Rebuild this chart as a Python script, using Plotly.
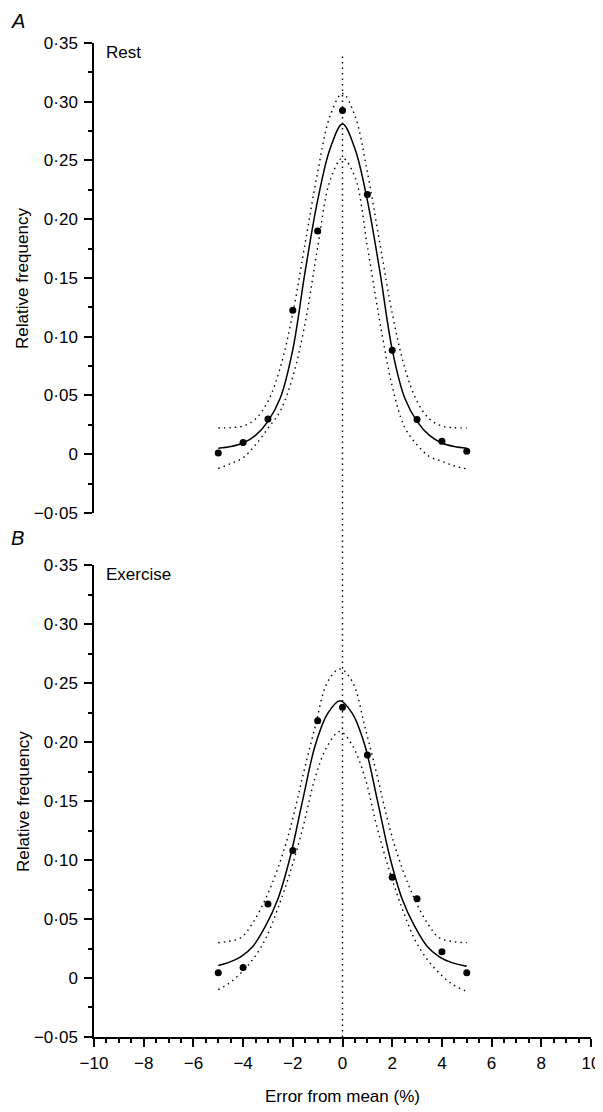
import plotly.graph_objects as go

# measured points (x = error from mean, %)
error_pts = [-5, -4, -3, -2, -1, 0, 1, 2, 3, 4, 5]
rest_freq = [0.001, 0.010, 0.030, 0.1226, 0.190, 0.2925, 0.221, 0.0885, 0.0295, 0.011, 0.0026]
exercise_freq = [0.0045, 0.009, 0.0627, 0.108, 0.218, 0.2294, 0.189, 0.0853, 0.0672, 0.0223, 0.0045]

# fitted curve and confidence band
rest_curve_x = [-5, -4.5, -4, -3.5, -3, -2.5, -2, -1.5, -1, -0.5, 0,
                0.5, 1, 1.5, 2, 2.5, 3, 3.5, 4, 4.5, 5]
rest_fit = [0.0050, 0.0065, 0.0095, 0.016, 0.028, 0.048, 0.089, 0.156, 0.216, 0.260, 0.281,
            0.260, 0.216, 0.156, 0.089, 0.048, 0.028, 0.016, 0.0095, 0.0065, 0.0050]
rest_upper = [0.0224, 0.0226, 0.024, 0.030, 0.045, 0.074, 0.120, 0.180, 0.240, 0.288, 0.307,
              0.288, 0.240, 0.180, 0.120, 0.074, 0.045, 0.030, 0.024, 0.0226, 0.0224]
rest_lower = [-0.0122, -0.008, -0.003, 0.008, 0.022, 0.037, 0.066, 0.112, 0.176, 0.233, 0.252,
              0.236, 0.177, 0.113, 0.058, 0.023, 0.008, -0.002, -0.006, -0.010, -0.0125]

exercise_curve_x = [-5.0, -4.6, -4.1, -3.6, -3.1, -2.6, -2.1, -1.6, -1.1, -0.6, -0.1,
                    0.4, 0.9, 1.4, 1.9, 2.4, 2.9, 3.4, 3.9, 4.4, 4.9, 5.0]
exercise_fit = [0.0106, 0.013, 0.018, 0.027, 0.044, 0.067, 0.103, 0.151, 0.197, 0.224, 0.235,
                0.224, 0.197, 0.151, 0.103, 0.067, 0.044, 0.027, 0.018, 0.013, 0.0103, 0.0100]
exercise_upper = [0.030, 0.031, 0.034, 0.047, 0.067, 0.093, 0.127, 0.171, 0.213, 0.251, 0.262,
                  0.251, 0.213, 0.171, 0.127, 0.093, 0.067, 0.047, 0.034, 0.031, 0.030, 0.030]
exercise_lower = [-0.0098, -0.005, 0.004, 0.016, 0.033, 0.059, 0.090, 0.127, 0.170, 0.197, 0.209,
                  0.197, 0.170, 0.127, 0.090, 0.059, 0.033, 0.016, 0.004, -0.005, -0.0105, -0.011]

y_tickvals = [-0.05, 0, 0.05, 0.10, 0.15, 0.20, 0.25, 0.30, 0.35]
y_ticktext = ["\u22120\u00b705", "0", "0\u00b705", "0\u00b710", "0\u00b715",
              "0\u00b720", "0\u00b725", "0\u00b730", "0\u00b735"]
x_tickvals = [-10, -8, -6, -4, -2, 0, 2, 4, 6, 8, 10]
x_ticktext = ["\u221210", "\u22128", "\u22126", "\u22124", "\u22122", "0", "2", "4", "6", "8", "10"]

FONT = "Liberation Sans, Arial, sans-serif"
DOT = "1.5px,4px"

fig = go.Figure()


def add_panel(xa, ya, cx, fit, upper, lower, freq):
    for band in (upper, lower):
        fig.add_trace(go.Scatter(
            x=cx, y=band, mode="lines", xaxis=xa, yaxis=ya,
            line=dict(color="black", width=1.4, dash=DOT, shape="spline"),
            hoverinfo="skip", showlegend=False,
        ))
    fig.add_trace(go.Scatter(
        x=cx, y=fit, mode="lines", xaxis=xa, yaxis=ya,
        line=dict(color="black", width=1.5, shape="spline"),
        showlegend=False,
    ))
    fig.add_trace(go.Scatter(
        x=error_pts, y=freq, mode="markers", xaxis=xa, yaxis=ya,
        marker=dict(color="black", size=7),
        showlegend=False,
    ))


add_panel("x", "y", rest_curve_x, rest_fit, rest_upper, rest_lower, rest_freq)
add_panel("x2", "y2", exercise_curve_x, exercise_fit, exercise_upper, exercise_lower, exercise_freq)

yaxis_cfg = dict(
    range=[-0.05, 0.35], showline=True, linecolor="black", linewidth=1.5,
    ticks="outside", ticklen=8, tickwidth=1.5, tickcolor="black",
    tickmode="array", tickvals=y_tickvals, ticktext=y_ticktext,
    tickfont=dict(family=FONT, size=17, color="black"), ticklabelstandoff=3,
    showgrid=False, zeroline=False, fixedrange=True,
    minor=dict(ticks="outside", ticklen=4, tickwidth=1.5, tickcolor="black",
               tickmode="linear", tick0=0, dtick=0.025, showgrid=False),
)

# the page body adds an 8px margin, so the figure is 8px smaller than the window
fig.update_layout(
    width=595, height=1104,
    margin=dict(l=86, r=12, t=35, b=75, autoexpand=False),
    paper_bgcolor="white", plot_bgcolor="white",
    font=dict(family=FONT, size=16, color="black"),
    showlegend=False,
    xaxis=dict(domain=[0, 1], range=[-10, 10], anchor="y", visible=False),
    yaxis=dict(domain=[0.5272, 1], anchor="x", **yaxis_cfg),
    xaxis2=dict(
        domain=[0, 1], range=[-10, 10], anchor="y2",
        showline=True, linecolor="black", linewidth=1.5,
        ticks="outside", ticklen=8, tickwidth=1.5, tickcolor="black",
        tickmode="array", tickvals=x_tickvals, ticktext=x_ticktext,
        tickfont=dict(family=FONT, size=17, color="black"), ticklabelstandoff=2,
        showgrid=False, zeroline=False,
        minor=dict(ticks="outside", ticklen=4, tickwidth=1.5, tickcolor="black",
                   tickmode="linear", tick0=0, dtick=0.5, showgrid=False),
    ),
    yaxis2=dict(domain=[0, 0.4748], anchor="x2", **yaxis_cfg),
)

# vertical dotted reference line at zero error, through both panels
fig.add_shape(type="line", xref="x2", yref="paper", x0=0, x1=0, y0=0, y1=0.990,
              line=dict(color="black", width=1.4, dash=DOT))

for label, ypos in (("A", 1.0225), ("B", 0.502)):
    fig.add_annotation(text=f"<i>{label}</i>", xref="paper", yref="paper", x=-0.153, y=ypos,
                       xanchor="center", yanchor="middle",
                       showarrow=False, font=dict(family=FONT, size=20, color="black"))

fig.add_annotation(text="Rest", xref="x", yref="y", x=-9.6, y=0.342,
                   xanchor="left", yanchor="middle",
                   showarrow=False, font=dict(family=FONT, size=17, color="black"))
fig.add_annotation(text="Exercise", xref="x2", yref="y2", x=-9.6, y=0.342,
                   xanchor="left", yanchor="middle",
                   showarrow=False, font=dict(family=FONT, size=17, color="black"))

for ya in ("y", "y2"):
    fig.add_annotation(text="Relative frequency", xref="paper", yref=ya, x=-0.143, y=0.15,
                       xanchor="center", yanchor="middle",
                       textangle=-90, showarrow=False,
                       font=dict(family=FONT, size=17, color="black"))

fig.add_annotation(text="Error from mean (%)", xref="x2", yref="paper", x=0, y=-0.0594,
                   xanchor="center", yanchor="middle",
                   showarrow=False, font=dict(family=FONT, size=17, color="black"))

fig.write_html("out.html")
